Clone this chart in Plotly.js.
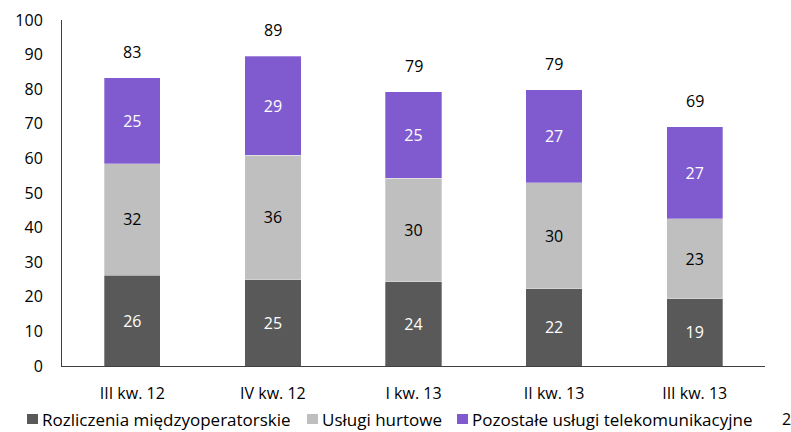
<!DOCTYPE html>
<html>
<head>
<meta charset="utf-8">
<script src="https://cdn.plot.ly/plotly-3.0.1.min.js"></script>
<style>html,body{margin:0;padding:0;background:#fff;}#chart{width:791px;height:432px;}</style>
</head>
<body>
<div id="chart"></div>
<script>
var categories = ["III kw. 12", "IV kw. 12", "I kw. 13", "II kw. 13", "III kw. 13"];
var rozliczenia = [26.3, 25.0, 24.4, 22.4, 19.4];
var hurtowe = [32.1, 35.9, 29.9, 30.5, 23.1];
var pozostale = [24.9, 28.6, 24.9, 26.9, 26.6];
var rozliczeniaLabels = ["26", "25", "24", "22", "19"];
var hurtoweLabels = ["32", "36", "30", "30", "23"];
var pozostaleLabels = ["25", "29", "25", "27", "27"];
var totalLabels = ["83", "89", "79", "79", "69"];
var seriesNames = ["Rozliczenia międzyoperatorskie", "Usługi hurtowe", "Pozostałe usługi telekomunikacyjne"];
var seriesColors = ["#595959", "#bfbfbf", "#7f5bcf"];

var FONT = "Open Sans, sans-serif";
var W = 791, H = 432, ML = 62, MR = 26, MT = 20, MB = 66;
var PW = W - ML - MR, PH = H - MT - MB;
function px(x) { return (x - ML) / PW; }
function py(y) { return (H - MB - y) / PH; }

function bar(name, y, text, color, tcolor) {
  return {
    type: "bar", name: name, x: categories, y: y, text: text,
    textposition: "inside", insidetextanchor: "middle", constraintext: "none",
    textfont: {family: FONT, size: 16, color: tcolor},
    marker: {color: color, line: {color: "rgba(255,255,255,0.5)", width: 0.6}},
    hoverinfo: "skip", showlegend: false
  };
}
var data = [
  bar(seriesNames[0], rozliczenia, rozliczeniaLabels, seriesColors[0], "#ffffff"),
  bar(seriesNames[1], hurtowe, hurtoweLabels, seriesColors[1], "#000000"),
  bar(seriesNames[2], pozostale, pozostaleLabels, seriesColors[2], "#ffffff")
];

var annotations = categories.map(function (c, i) {
  return {
    x: c, y: rozliczenia[i] + hurtowe[i] + pozostale[i], xref: "x", yref: "y",
    text: totalLabels[i], showarrow: false, yanchor: "bottom", yshift: 13,
    font: {family: FONT, size: 16, color: "#000"}
  };
});
// custom legend (one row, as in reference)
var legendMarkX = [27, 307, 457];
var shapes = [];
seriesNames.forEach(function (n, i) {
  shapes.push({
    type: "rect", xref: "paper", yref: "paper", layer: "above",
    x0: px(legendMarkX[i]), x1: px(legendMarkX[i] + 11),
    y0: py(424), y1: py(414),
    fillcolor: seriesColors[i], line: {width: 0}
  });
  annotations.push({
    xref: "paper", yref: "paper", x: px(legendMarkX[i] + 13), y: py(419.5),
    xanchor: "left", yanchor: "middle", showarrow: false, text: n,
    font: {family: FONT, size: 17, color: "#000"}
  });
});
annotations.push({
  xref: "paper", yref: "paper", x: px(780), y: py(419.5),
  xanchor: "left", yanchor: "middle", showarrow: false, text: "2",
  font: {family: FONT, size: 16, color: "#000"}
});

var layout = {
  width: W, height: H,
  margin: {l: ML, r: MR, t: MT, b: MB, pad: 0},
  barmode: "stack", bargap: 0.6,
  paper_bgcolor: "#fff", plot_bgcolor: "#fff",
  font: {family: FONT, size: 16, color: "#000"},
  xaxis: {
    showline: true, linecolor: "#404040", linewidth: 1, ticks: "", showgrid: false,
    tickfont: {family: FONT, size: 16, color: "#000"}, ticklabelstandoff: 13,
    automargin: false
  },
  yaxis: {
    range: [0, 100], dtick: 10, showline: true, linecolor: "#404040", linewidth: 1,
    ticks: "", showgrid: false, zeroline: false, automargin: false,
    tickfont: {family: FONT, size: 16, color: "#000"}, ticklabelstandoff: 15
  },
  showlegend: false,
  shapes: shapes,
  annotations: annotations
};
Plotly.newPlot("chart", data, layout, {staticPlot: true, displayModeBar: false});
</script>
</body>
</html>
